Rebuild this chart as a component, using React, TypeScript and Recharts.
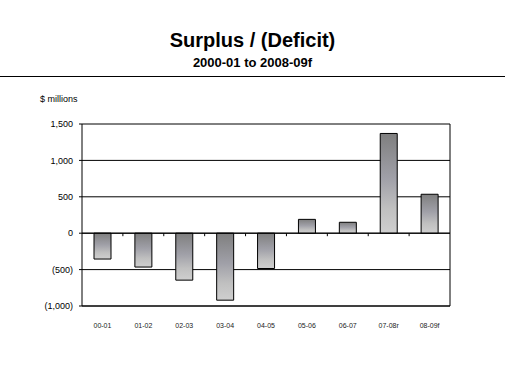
import React from "react";
import {
  BarChart,
  Bar,
  XAxis,
  YAxis,
  CartesianGrid,
  ReferenceLine,
} from "recharts";

const years = [
  "00-01",
  "01-02",
  "02-03",
  "03-04",
  "04-05",
  "05-06",
  "06-07",
  "07-08r",
  "08-09f",
];
const surplus = [-355, -465, -645, -920, -485, 190, 150, 1370, 535];
const yTicks = [-1000, -500, 0, 500, 1000, 1500];

const data = years.map((year, i) => ({ year, value: surplus[i] }));

const FONT = "'Liberation Sans', Arial, sans-serif";

const fmt = (v: number) => {
  const s = Math.abs(v).toLocaleString("en-US");
  return v < 0 ? `(${s})` : s;
};

// zero line with small tick marks at each category boundary
const ZeroLine = (props: any) => {
  const { x1, x2, y1 } = props;
  const step = (x2 - x1) / years.length;
  const marks = [];
  for (let i = 1; i < years.length; i++) {
    const x = x1 + step * i;
    marks.push(
      <line key={i} x1={x} x2={x} y1={y1} y2={y1 + 3} stroke="#000" strokeWidth={1} />
    );
  }
  return (
    <g>
      <line x1={x1} x2={x2} y1={y1} y2={y1} stroke="#000" strokeWidth={1} />
      {marks}
    </g>
  );
};

const XTick = (props: any) => {
  const { x, y, payload } = props;
  return (
    <text
      x={x}
      y={y + 14}
      textAnchor="middle"
      fontSize={7}
      fontFamily={FONT}
      fill="#222"
    >
      {payload.value}
    </text>
  );
};

export default function App() {
  return (
    <div
      style={{
        position: "absolute",
        left: 0,
        top: 0,
        width: 505,
        height: 379,
        background: "#fff",
        fontFamily: FONT,
      }}
    >
      <div
        style={{
          position: "absolute",
          top: 29,
          width: 505,
          textAlign: "center",
          fontSize: 20,
          fontWeight: "bold",
          lineHeight: "22px",
          color: "#000",
        }}
      >
        Surplus / (Deficit)
      </div>
      <div
        style={{
          position: "absolute",
          top: 55,
          width: 505,
          textAlign: "center",
          fontSize: 13,
          fontWeight: "bold",
          lineHeight: "15px",
          color: "#000",
        }}
      >
        2000-01 to 2008-09f
      </div>
      <div
        style={{
          position: "absolute",
          top: 76,
          left: 0,
          width: 505,
          height: 1,
          borderTop: "1.5px solid #000",
        }}
      />
      <div
        style={{
          position: "absolute",
          top: 94,
          left: 40,
          fontSize: 9,
          lineHeight: "11px",
          color: "#000",
        }}
      >
        $ millions
      </div>
      <div style={{ position: "absolute", left: 0, top: 0 }}>
        <BarChart
          width={505}
          height={379}
          data={data}
          margin={{ top: 124, right: 50, bottom: 43, left: 22 }}
        >
          <defs>
            <linearGradient id="barFill" x1="0" y1="0" x2="0" y2="1">
              <stop offset="0%" stopColor="#7f7f7f" />
              <stop offset="45%" stopColor="#a0a0a8" />
              <stop offset="75%" stopColor="#c0c0c0" />
              <stop offset="100%" stopColor="#cfcfcf" />
            </linearGradient>
          </defs>
          <CartesianGrid
            horizontal
            vertical={false}
            stroke="#000"
            strokeWidth={1}
          />
          <XAxis
            dataKey="year"
            axisLine={{ stroke: "#000", strokeWidth: 1 }}
            tickLine={false}
            tick={<XTick />}
            height={30}
            interval={0}
          />
          <YAxis
            domain={[-1000, 1500]}
            ticks={yTicks}
            tickFormatter={fmt}
            width={60}
            axisLine={{ stroke: "#000", strokeWidth: 1 }}
            tickLine={{ stroke: "#000" }}
            tickSize={3}
            tickMargin={6}
            tick={{ fontSize: 9, fill: "#000", fontFamily: FONT }}
            interval={0}
          />
          <YAxis
            yAxisId="right"
            orientation="right"
            domain={[-1000, 1500]}
            tick={false}
            tickLine={false}
            axisLine={{ stroke: "#000", strokeWidth: 1 }}
            width={5}
          />
          <ReferenceLine y={0} shape={<ZeroLine />} />
          <Bar
            dataKey="value"
            fill="url(#barFill)"
            stroke="#000"
            strokeWidth={1}
            barSize={17}
            isAnimationActive={false}
          />
        </BarChart>
      </div>
    </div>
  );
}
